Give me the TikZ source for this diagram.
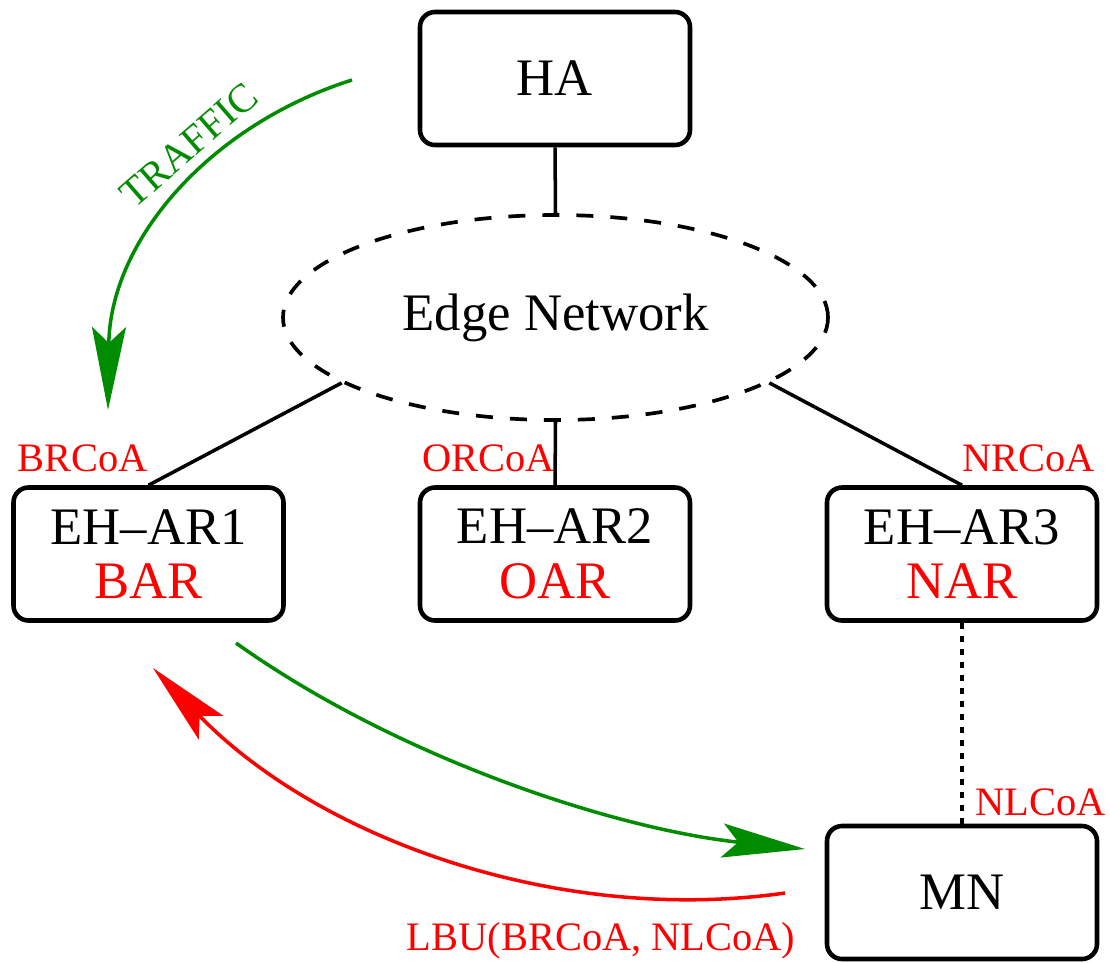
\documentclass[tikz,border=0pt]{standalone}
\usepackage{fontspec}
\setmainfont{Liberation Serif}
\usetikzlibrary{shapes.geometric,arrows.meta}
\definecolor{figgreen}{RGB}{0,140,0}
\newcommand{\boxfont}{\fontsize{30}{31}\selectfont}
\newcommand{\tagfont}{\fontsize{23}{25}\selectfont}
\tikzset{
  unit/.style={draw, rounded corners=0.3cm, line width=2.6pt,
    minimum width=5.4cm, minimum height=2.66cm, align=center, font=\boxfont},
  tag/.style={text=red, font=\tagfont, inner sep=0pt},
  link/.style={line width=2pt},
  flow/.style={line width=2pt, -{Stealth[length=1.66cm, width=0.68cm, inset=0.32cm]}},
}
\begin{document}
\begin{tikzpicture}
  \useasboundingbox (0,0) rectangle (22.2,-19.24);

  \node[unit] (ha) at (11.1,-1.57) {HA};
  \node[ellipse, draw, line width=2.1pt, dash pattern=on 0.34cm off 0.34cm,
    minimum width=10.9cm, minimum height=4.1cm, font=\boxfont] (en) at (11.11,-6.35) {Edge Network};
  \node[unit] (ar1) at (2.97,-11.08) {EH--AR1\\\textcolor{red}{BAR}};
  \node[unit] (ar2) at (11.1,-11.08) {EH--AR2\\\textcolor{red}{OAR}};
  \node[unit] (ar3) at (19.24,-11.08) {EH--AR3\\\textcolor{red}{NAR}};
  \node[unit] (mn) at (19.24,-17.85) {MN};

  \draw[link] (ha.south) -- (en.north);
  \draw[link] (en.197) -- (ar1.north);
  \draw[link] (en.south) -- (ar2.north);
  \draw[link] (en.-17) -- (ar3.north);
  \draw[link, line width=2.4pt, dash pattern=on 0.12cm off 0.14cm] (ar3.south) -- (mn.north);

  % care-of addresses
  \node[tag, anchor=base east] (brcoa) at ([yshift=0.28cm]ar1.north) {BRCoA};
  \node[tag, anchor=base east] (orcoa) at ([yshift=0.28cm]ar2.north) {ORCoA};
  \node[tag, anchor=base west] (nrcoa) at ([yshift=0.28cm]ar3.north) {NRCoA};
  \node[tag, anchor=base west] (nlcoa) at ([xshift=0.26cm,yshift=0.16cm]mn.north) {NLCoA};

  % traffic and binding update
  \coordinate (t0) at (7.04,-1.6);
  \coordinate (t1) at (2.16,-8.2);
  \draw[flow, figgreen] (t0) .. controls (4.2,-2.5) and (2.2,-4.8) .. (t1);
  \node[tag, text=figgreen, rotate=41] (traffic) at (3.78,-2.9) {TRAFFIC};

  \coordinate (g0) at (4.72,-12.86);
  \coordinate (g1) at (16.1,-16.98);
  \draw[flow, figgreen] (g0) .. controls (8.0,-15.2) and (12.4,-16.6) .. (g1);

  \coordinate (r0) at (15.7,-17.86);
  \coordinate (r1) at (3.06,-13.36);
  \draw[flow, red] (r0) .. controls (11.2,-18.5) and (6.4,-16.8) .. (r1);
  \node[tag, anchor=base east] (lbu) at ([xshift=-0.58cm,yshift=0.22cm]mn.south west) {LBU(BRCoA, NLCoA)};
\end{tikzpicture}
\end{document}
